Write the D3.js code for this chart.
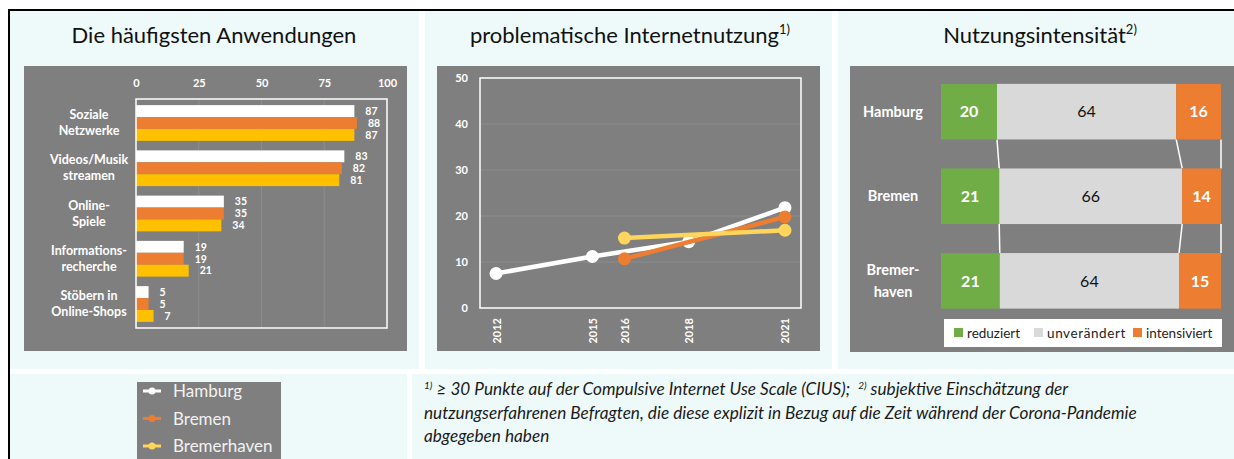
<!DOCTYPE html>
<html>
<head>
<meta charset="utf-8">
<script src="https://cdn.jsdelivr.net/npm/d3@7"></script>
<style>
  body { margin: 0; background: #fff; }
  svg { display: block; font-family: Lato, "Open Sans", sans-serif; }
</style>
</head>
<body>
<svg width="1234" height="459"></svg>
<script>
// ---- data ----
const cities = ["Hamburg", "Bremen", "Bremerhaven"];
const appCategories = [["Soziale", "Netzwerke"], ["Videos/Musik", "streamen"], ["Online-", "Spiele"],
                       ["Informations-", "recherche"], ["Stöbern in", "Online-Shops"]];
const appHamburg = [87, 83, 35, 19, 5];
const appBremen = [88, 82, 35, 19, 5];
const appBremerhaven = [87, 81, 34, 21, 7];
const appTicks = [0, 25, 50, 75, 100];

const trendYears = [2012, 2015, 2016, 2018, 2021];
const trendTicks = [0, 10, 20, 30, 40, 50];
const trendHamburg = [[2012, 7.5], [2015, 11.2], [2018, 14.4], [2021, 21.8]];
const trendBremen = [[2016, 10.7], [2021, 19.8]];
const trendBremerhaven = [[2016, 15.2], [2021, 16.9]];

const intensityCities = [["Hamburg"], ["Bremen"], ["Bremer-", "haven"]];
const intensityKeys = ["reduziert", "unverändert", "intensiviert"];
const reduziert = [20, 21, 21];
const unveraendert = [64, 66, 64];
const intensiviert = [16, 14, 15];

// ---- colours ----
const CYAN = '#eefafa', GREY = '#7f7f7f', GRID = '#8d8d8d';
const ORANGE = '#ed7d31', YELLOW = '#ffc000', LYELLOW = '#ffd55c', GREEN = '#70ad47', LGREY = '#d9d9d9';
const cityColor = d3.scaleOrdinal().domain(cities).range(['#ffffff', ORANGE, YELLOW]);
const trendColor = d3.scaleOrdinal().domain(cities).range(['#ffffff', ORANGE, LYELLOW]);
const intColor = d3.scaleOrdinal().domain(intensityKeys).range([GREEN, LGREY, ORANGE]);

var svg = d3.select('svg');

// ---- frame / panels ----
[[10, 11, 409, 358], [425, 11, 407, 358], [838, 11, 396, 358], [10, 374, 397, 85], [412, 374, 822, 85]]
  .forEach(p => svg.append('rect').attr('x', p[0]).attr('y', p[1]).attr('width', p[2]).attr('height', p[3]).attr('fill', CYAN));
svg.append('line').attr('x1', 8).attr('x2', 1234).attr('y1', 10).attr('y2', 10).attr('stroke', '#000').attr('stroke-width', 2);
svg.append('line').attr('x1', 9).attr('x2', 9).attr('y1', 10).attr('y2', 459).attr('stroke', '#000').attr('stroke-width', 2);

function title(x, txt, sup) {
  let t = svg.append('text').attr('x', x).attr('y', 43).attr('text-anchor', 'middle')
    .attr('font-size', 22).attr('fill', '#111').text(txt);
  if (sup) t.append('tspan').attr('font-size', 13).attr('dy', -9).text(sup);
}
title(214, 'Die häufigsten Anwendungen');
title(630, 'problematische Internetnutzung', '1)');
title(1040, 'Nutzungsintensität', '2)');

/* ----------- panel 1: bars ----------- */
svg.append('rect').attr('x', 24).attr('y', 66).attr('width', 383).attr('height', 285).attr('fill', GREY);

let x1 = d3.scaleLinear().domain([0, 100]).range([136, 387]);
let y1 = d3.scaleBand().domain(d3.range(appCategories.length)).range([99, 328]).paddingInner(0.21).paddingOuter(0.135);
let yc = d3.scaleBand().domain(cities).range([0, y1.bandwidth()]);
let appSeries = { Hamburg: appHamburg, Bremen: appBremen, Bremerhaven: appBremerhaven };

svg.append('g').selectAll('line').data(appTicks.slice(1, -1)).enter().append('line')
  .attr('x1', d => x1(d)).attr('x2', d => x1(d)).attr('y1', 99).attr('y2', 328)
  .attr('stroke', GRID).attr('stroke-width', 1);

let ax1 = svg.append('g').attr('transform', 'translate(0,87)')
  .call(d3.axisTop(x1).tickValues(appTicks).tickSize(0).tickPadding(0));
ax1.select('.domain').remove();
ax1.selectAll('text').attr('fill', '#fff').attr('font-size', 11).attr('font-weight', 'bold').attr('font-family', 'Lato');

cities.forEach(c => {
  let g = svg.append('g');
  g.selectAll('rect').data(appSeries[c]).enter().append('rect')
    .attr('x', x1(0)).attr('y', (d, i) => y1(i) + yc(c))
    .attr('width', d => x1(d) - x1(0)).attr('height', yc.bandwidth())
    .attr('fill', cityColor(c));
  g.selectAll('text').data(appSeries[c]).enter().append('text')
    .attr('x', d => x1(d) + 11).attr('y', (d, i) => y1(i) + yc(c) + yc.bandwidth() / 2)
    .attr('dy', '0.36em').attr('fill', '#fff').attr('font-size', 10.5).attr('font-weight', 'bold')
    .text(d => d);
});

svg.append('rect').attr('x', 136).attr('y', 99).attr('width', 251).attr('height', 229)
  .attr('fill', 'none').attr('stroke', '#fff').attr('stroke-width', 1.5);

let catLab = svg.append('g').selectAll('text').data(appCategories).enter().append('text')
  .attr('text-anchor', 'middle').attr('fill', '#fff').attr('font-size', 12.5).attr('font-weight', 'bold');
catLab.each(function (d, i) {
  let cy = y1(i) + y1.bandwidth() / 2;
  d3.select(this).selectAll('tspan').data(d).enter().append('tspan')
    .attr('x', 89).attr('y', (l, k) => cy - 4 + k * 16).text(l => l);
});

/* ----------- panel 2: lines ----------- */
svg.append('rect').attr('x', 437).attr('y', 66).attr('width', 383).attr('height', 285).attr('fill', GREY);

let x2 = d3.scaleLinear().domain([2011.5, 2021.5]).range([480, 801]);
let y2 = d3.scaleLinear().domain([0, 50]).range([308, 78]);

svg.append('g').selectAll('line').data(trendTicks.slice(1, -1)).enter().append('line')
  .attr('x1', 480).attr('x2', 801).attr('y1', d => y2(d)).attr('y2', d => y2(d))
  .attr('stroke', GRID).attr('stroke-width', 1);
svg.append('rect').attr('x', 480).attr('y', 78).attr('width', 321).attr('height', 230)
  .attr('fill', 'none').attr('stroke', '#fff').attr('stroke-width', 1.5);

let ay2 = svg.append('g').attr('transform', 'translate(468,0)')
  .call(d3.axisLeft(y2).tickValues(trendTicks).tickSize(0).tickPadding(0));
ay2.select('.domain').remove();
ay2.selectAll('text').attr('fill', '#fff').attr('font-size', 11).attr('font-weight', 'bold').attr('font-family', 'Lato');

let ax2 = svg.append('g').attr('transform', 'translate(0,308)')
  .call(d3.axisBottom(x2).tickValues(trendYears).tickFormat(d3.format('d')).tickSize(0));
ax2.select('.domain').remove();
ax2.selectAll('text').attr('transform', 'rotate(-90)').attr('text-anchor', 'end')
  .attr('x', -10).attr('y', 0).attr('dy', '0.36em')
  .attr('fill', '#fff').attr('font-size', 11).attr('font-weight', 'bold').attr('font-family', 'Lato');

let trendSeries = { Hamburg: trendHamburg, Bremen: trendBremen, Bremerhaven: trendBremerhaven };
let line = d3.line().x(d => x2(d[0])).y(d => y2(d[1]));
cities.forEach(c => {
  let g = svg.append('g');
  g.append('path').datum(trendSeries[c]).attr('d', line)
    .attr('fill', 'none').attr('stroke', trendColor(c)).attr('stroke-width', 4.5);
  g.selectAll('circle').data(trendSeries[c]).enter().append('circle')
    .attr('cx', d => x2(d[0])).attr('cy', d => y2(d[1])).attr('r', 6.5).attr('fill', trendColor(c));
});

/* ----------- panel 3: stacked ----------- */
svg.append('rect').attr('x', 850).attr('y', 66).attr('width', 384).attr('height', 286).attr('fill', GREY);

let x3 = d3.scaleLinear().domain([0, 1]).range([941, 1221]);
let y3 = d3.scaleBand().domain(d3.range(intensityCities.length)).range([69.5, 323]).paddingInner(0.343).paddingOuter(0.17);
let rows = intensityCities.map((c, i) => ({ reduziert: reduziert[i], 'unverändert': unveraendert[i], intensiviert: intensiviert[i] }));
rows.forEach(r => { r.total = d3.sum(intensityKeys, k => r[k]); });
let stack = d3.stack().keys(intensityKeys).value((d, k) => d[k] / d.total)(rows);

// series lines between rows
let bounds = d3.range(rows.length).map(i => stack.map(s => s[i][1]));
let sl = [];
for (let i = 0; i < rows.length - 1; i++) {
  bounds[i].forEach((b, k) => sl.push([b, y3(i) + y3.bandwidth(), bounds[i + 1][k], y3(i + 1)]));
}
svg.append('g').selectAll('line').data(sl).enter().append('line')
  .attr('x1', d => x3(d[0])).attr('y1', d => d[1]).attr('x2', d => x3(d[2])).attr('y2', d => d[3])
  .attr('stroke', '#fff').attr('stroke-width', 1.5);

stack.forEach(s => {
  let g = svg.append('g');
  g.selectAll('rect').data(s).enter().append('rect')
    .attr('x', d => x3(d[0])).attr('y', (d, i) => y3(i))
    .attr('width', d => x3(d[1]) - x3(d[0])).attr('height', y3.bandwidth())
    .attr('fill', intColor(s.key));
  g.selectAll('text').data(s).enter().append('text')
    .attr('x', d => (x3(d[0]) + x3(d[1])) / 2).attr('y', (d, i) => y3(i) + y3.bandwidth() / 2)
    .attr('dy', '0.36em').attr('text-anchor', 'middle').attr('font-size', 16)
    .attr('font-weight', s.key === 'unverändert' ? 'normal' : 'bold')
    .attr('fill', s.key === 'unverändert' ? '#111' : '#fff')
    .text(d => d.data[s.key]);
});

svg.append('g').selectAll('text').data(intensityCities).enter().append('text')
  .attr('text-anchor', 'middle').attr('fill', '#fff').attr('font-size', 14.5).attr('font-weight', 'bold')
  .each(function (d, i) {
    let cy = y3(i) + y3.bandwidth() / 2 + 5 - (d.length - 1) * 11;
    d3.select(this).selectAll('tspan').data(d).enter().append('tspan')
      .attr('x', 893).attr('y', (l, k) => cy + k * 22).text(l => l);
  });

// legend panel 3
svg.append('rect').attr('x', 944).attr('y', 319).attr('width', 278).attr('height', 28).attr('fill', '#fff');
let legX = [954, 1034, 1133];
let lg = svg.append('g').selectAll('g').data(intensityKeys).enter().append('g')
  .attr('transform', (d, i) => `translate(${legX[i]},328)`);
lg.append('rect').attr('width', 9).attr('height', 9).attr('fill', d => intColor(d));
lg.append('text').attr('x', 13).attr('y', 10).attr('font-size', 13.5).attr('fill', '#222')
  .attr('letter-spacing', d => d === 'unverändert' ? 0.6 : 0).text(d => d);

/* ----------- bottom: legend lines + footnote ----------- */
svg.append('rect').attr('x', 137).attr('y', 382).attr('width', 144).attr('height', 77).attr('fill', GREY);
let ll = svg.append('g').selectAll('g').data(cities).enter().append('g')
  .attr('transform', (d, i) => `translate(143,${391 + i * 27.5})`);
ll.append('line').attr('x1', 0).attr('x2', 18).attr('stroke', d => trendColor(d)).attr('stroke-width', 3);
ll.append('circle').attr('cx', 9).attr('r', 3.5).attr('fill', d => trendColor(d));
ll.append('text').attr('x', 30).attr('dy', '0.36em').attr('font-size', 17).attr('fill', '#f2f2f2').text(d => d);

let fn = svg.append('text').attr('font-size', 17.2).attr('font-style', 'italic').attr('fill', '#1a1a1a');
fn.append('tspan').attr('x', 424).attr('y', 395).attr('font-size', 10).attr('dy', -6).text('1)');
fn.append('tspan').attr('dy', 6).text(' ≥ 30 Punkte auf der Compulsive Internet Use Scale (CIUS);\u00a0\u00a0');
fn.append('tspan').attr('font-size', 10).attr('dy', -6).text('2)');
fn.append('tspan').attr('dy', 6).text(' subjektive Einschätzung der');
fn.append('tspan').attr('x', 424).attr('y', 419).text('nutzungserfahrenen Befragten, die diese explizit in Bezug auf die Zeit während der Corona-Pandemie');
fn.append('tspan').attr('x', 424).attr('y', 442).text('abgegeben haben');
</script>
</body>
</html>
